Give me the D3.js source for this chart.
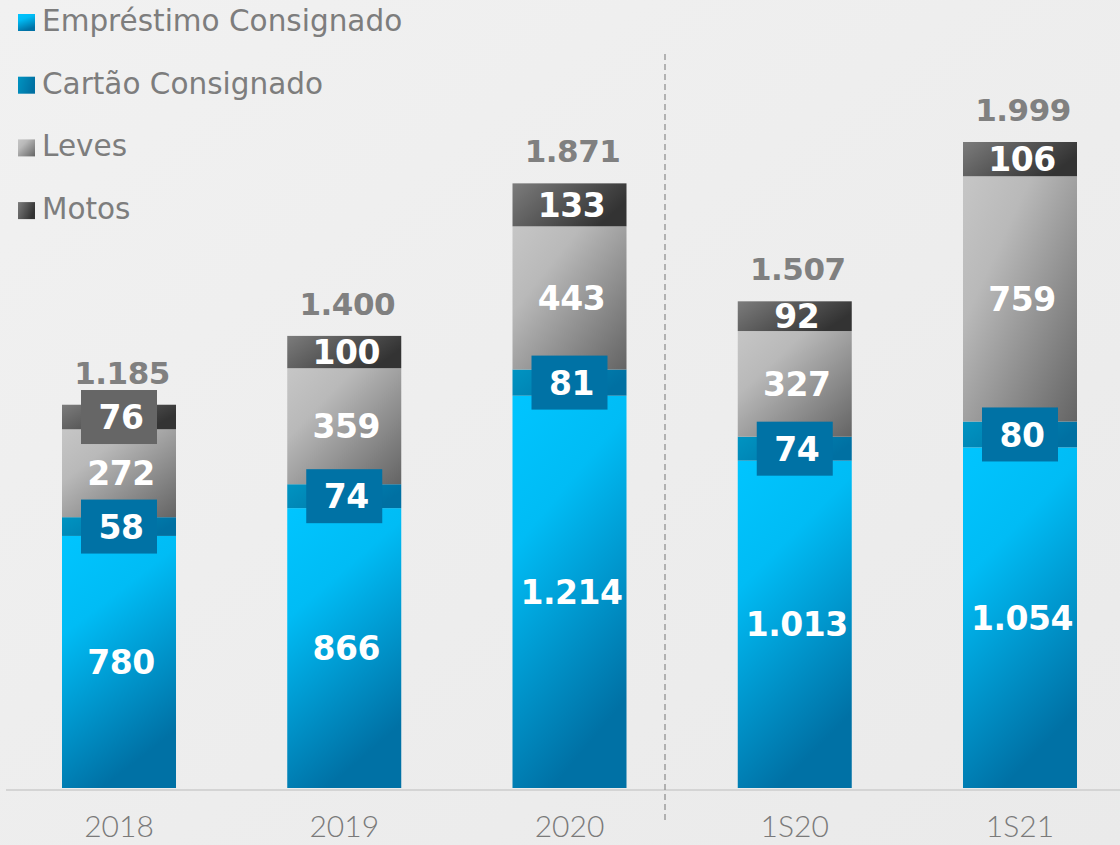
<!DOCTYPE html>
<html>
<head>
<meta charset="utf-8">
<script src="https://cdn.jsdelivr.net/npm/d3@7"></script>
<style>
  html, body { margin: 0; padding: 0; background: #eeeeee; }
  svg { display: block; }
</style>
</head>
<body>
<script>
const categories = ["2018", "2019", "2020", "1S20", "1S21"];
const emprestimo = [780, 866, 1214, 1013, 1054];
const cartao = [58, 74, 81, 74, 80];
const leves = [272, 359, 443, 327, 759];
const motos = [76, 100, 133, 92, 106];
const totalLabels = ["1.185", "1.400", "1.871", "1.507", "1.999"];
const seriesNames = ["Empréstimo Consignado", "Cartão Consignado", "Leves", "Motos"];
const boxedMotos = ["2018"];

const W = 1120, H = 845;
const svg = d3.select("body").append("svg").attr("width", W).attr("height", H);

const defs = svg.append("defs");
function grad(id, x2, y2, stops) {
  const g = defs.append("linearGradient").attr("id", id)
    .attr("x1", 0).attr("y1", 0).attr("x2", x2).attr("y2", y2);
  stops.forEach(s => g.append("stop").attr("offset", s[0]).attr("stop-color", s[1]));
}
grad("bgGrad", 1, 1, [[0, "#f1f1f1"], [1, "#eaeaea"]]);
grad("gEmp", 0.35, 1, [[0, "#00c5ff"], [0.35, "#00bcf5"], [1, "#0071a5"]]);
grad("gCart", 1, 0.3, [[0, "#0094c2"], [1, "#0070a2"]]);
grad("gLev", 1, 1, [[0, "#c6c6c6"], [0.3, "#b9b9b9"], [1, "#646464"]]);
grad("gMot", 1, 0.4, [[0, "#7c7c7c"], [1, "#333333"]]);
const fills = ["url(#gEmp)", "url(#gCart)", "url(#gLev)", "url(#gMot)"];

svg.append("rect").attr("width", W).attr("height", H).attr("fill", "url(#bgGrad)");

const fmt = d3.formatLocale({decimal: ",", thousands: ".", grouping: [3], currency: ["R$", ""]}).format(",d");

const x = d3.scalePoint().domain(categories).range([119, 1020]);
const y = d3.scaleLinear().domain([0, 1999]).range([788, 142]);
const barW = 114;

const table = categories.map((c, i) => ({
  cat: c, emprestimo: emprestimo[i], cartao: cartao[i], leves: leves[i], motos: motos[i], total: totalLabels[i]
}));
const keys = ["emprestimo", "cartao", "leves", "motos"];
const stacked = d3.stack().keys(keys)(table);

// axis baseline
svg.append("line").attr("x1", 6).attr("x2", W).attr("y1", 790).attr("y2", 790)
  .attr("stroke", "#d4d4d4").attr("stroke-width", 2);

// divider
svg.append("line").attr("x1", 665).attr("x2", 665).attr("y1", 54).attr("y2", 822)
  .attr("stroke", "#8a8a8a").attr("stroke-width", 1.2).attr("stroke-dasharray", "6,4");

// bars
stacked.forEach((layer, li) => {
  svg.append("g").selectAll("rect").data(layer).join("rect")
    .attr("x", d => x(d.data.cat) - barW / 2)
    .attr("width", barW)
    .attr("y", d => y(d[1]))
    .attr("height", d => y(d[0]) - y(d[1]))
    .attr("fill", fills[li]);
});

const labelFont = "'DejaVu Sans', sans-serif";
const labelSize = 33;
const capOff = labelSize * 0.365;

// cartão boxes
const cartLayer = stacked[1];
svg.append("g").selectAll("rect").data(cartLayer).join("rect")
  .attr("x", d => x(d.data.cat) - 38)
  .attr("y", d => (y(d[0]) + y(d[1])) / 2 - 27)
  .attr("width", 76).attr("height", 54)
  .attr("fill", "#0072a5");

// motos boxes (where segment is small)
const motLayer = stacked[3];
svg.append("g").selectAll("rect").data(motLayer.filter(d => boxedMotos.includes(d.data.cat))).join("rect")
  .attr("x", d => x(d.data.cat) - 38)
  .attr("y", d => (y(d[0]) + y(d[1])) / 2 - 27)
  .attr("width", 76).attr("height", 54)
  .attr("fill", "#666666");

// segment labels
stacked.forEach((layer, li) => {
  svg.append("g").selectAll("text").data(layer).join("text")
    .attr("x", d => x(d.data.cat) + 2)
    .attr("y", d => (y(d[0]) + y(d[1])) / 2 + capOff)
    .attr("text-anchor", "middle")
    .attr("font-family", labelFont).attr("font-weight", "bold")
    .attr("font-size", labelSize).attr("letter-spacing", -0.5)
    .attr("fill", "#ffffff")
    .text(d => fmt(d.data[keys[li]]));
});

// totals
svg.append("g").selectAll("text").data(stacked[3]).join("text")
  .attr("x", d => x(d.data.cat) + 3)
  .attr("y", d => y(d[1]) - 21)
  .attr("text-anchor", "middle")
  .attr("font-family", labelFont).attr("font-weight", "bold")
  .attr("font-size", 31).attr("letter-spacing", -0.5)
  .attr("fill", "#808080")
  .text(d => d.data.total);

// x axis labels
svg.append("g").selectAll("text").data(categories).join("text")
  .attr("x", d => x(d))
  .attr("y", 837)
  .attr("text-anchor", "middle")
  .attr("font-family", "Lato, sans-serif").attr("font-weight", 300)
  .attr("font-size", 30)
  .attr("fill", "#7a7a7a")
  .text(d => d);

// legend
const legend = svg.append("g");
seriesNames.forEach((name, i) => {
  const by = 31 + i * 62.7;
  legend.append("rect").attr("x", 18).attr("y", by - 17).attr("width", 17).attr("height", 17)
    .attr("fill", fills[i]);
  legend.append("text").attr("x", 42).attr("y", by)
    .attr("font-family", "'DejaVu Sans', sans-serif").attr("font-size", 29.5)
    .attr("fill", "#7d7d7d")
    .text(name);
});
</script>
</body>
</html>
